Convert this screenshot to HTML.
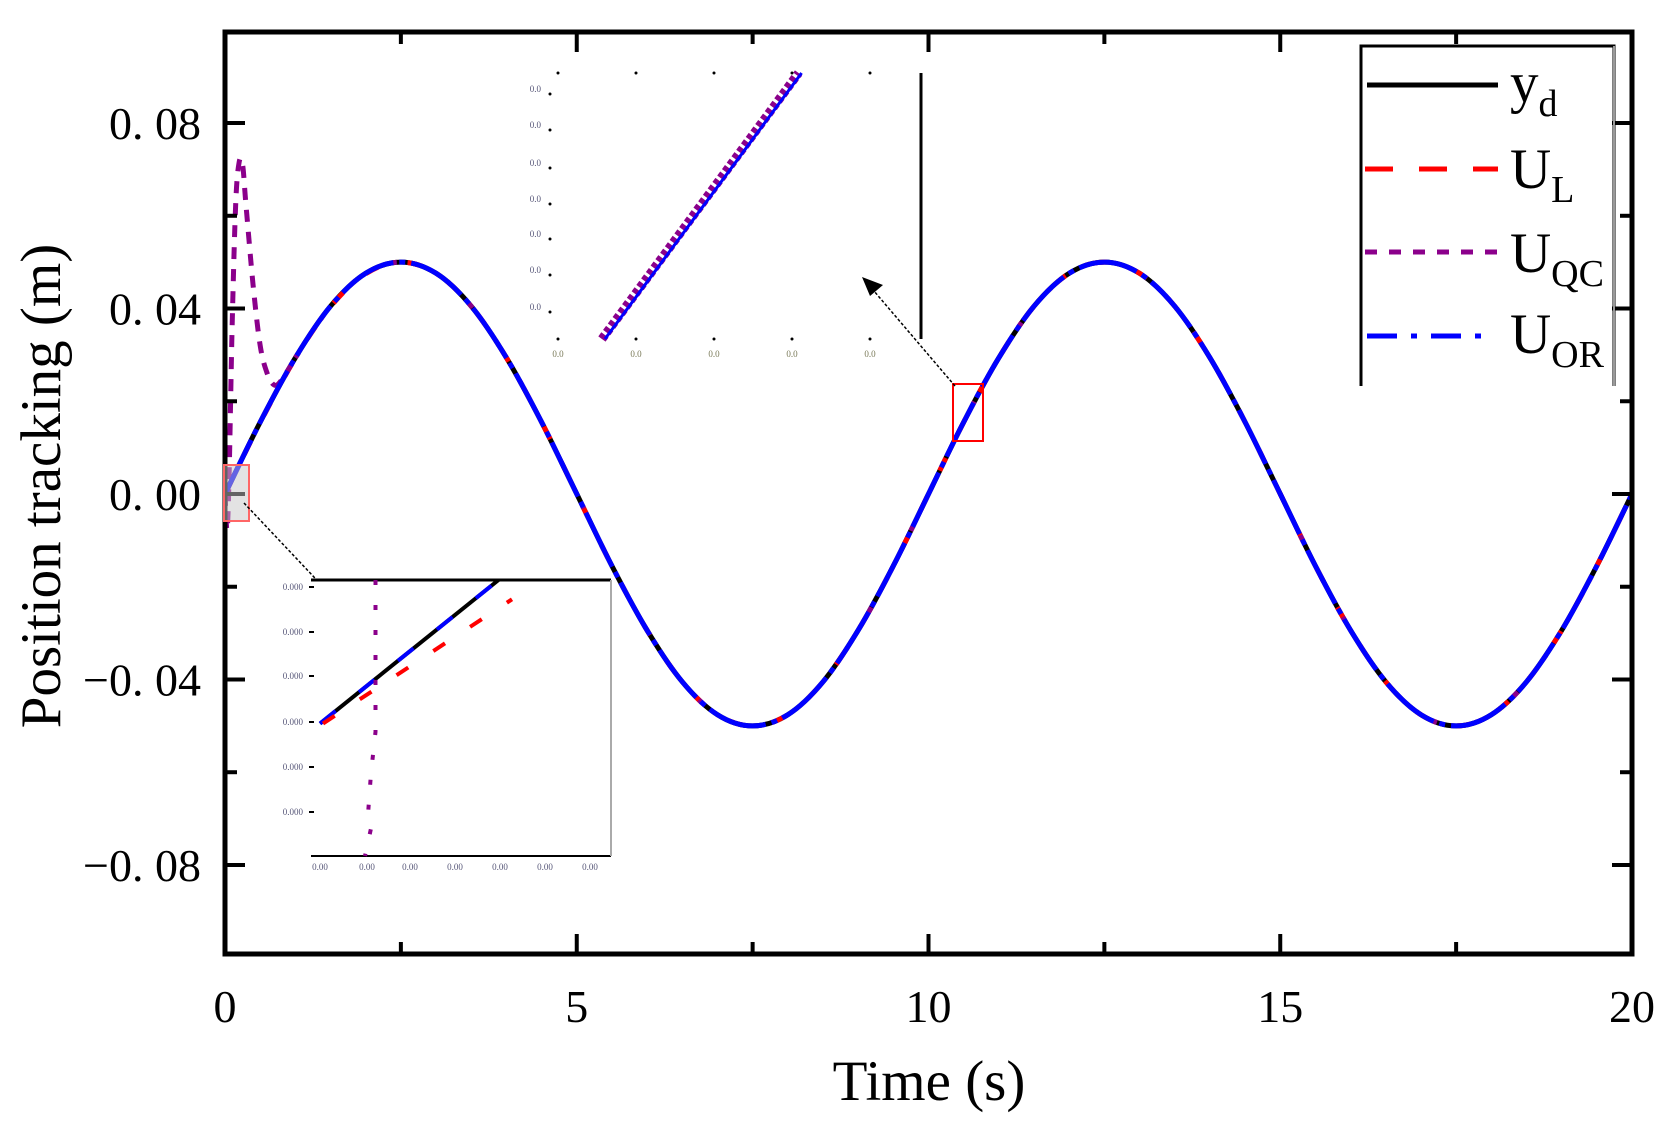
<!DOCTYPE html>
<html><head><meta charset="utf-8"><style>
html,body{margin:0;padding:0;background:#fff;}
svg{display:block;font-family:"Liberation Serif",serif;}
</style></head><body>
<svg id="chart" width="1679" height="1138" viewBox="0 0 1679 1138" xmlns="http://www.w3.org/2000/svg">
<rect x="0" y="0" width="1679" height="1138" fill="#fff"/>
<g id="series"></g>
<g id="axes"></g>
<g id="insets"></g>
<text x="47" y="486" font-size="57" text-anchor="middle" dominant-baseline="middle" transform="rotate(-90 47 486)">Position tracking (m)</text>
<text x="929" y="1100" font-size="57" text-anchor="middle">Time (s)</text>
<g>
<polyline points="1361,386 1361,46 1614,46 1614,386" fill="none" stroke="#000" stroke-width="3"/>
<line x1="1614" y1="46" x2="1614" y2="386" stroke="#999" stroke-width="2"/>
<g><line x1="1367" y1="85" x2="1498" y2="85" stroke="#000" stroke-width="5"/><text x="1510" y="102" font-size="57">y<tspan font-size="38" dy="14">d</tspan></text></g>
<g><line x1="1365" y1="169" x2="1498" y2="169" stroke="#f00" stroke-width="5" stroke-dasharray="28,26"/><text x="1510" y="188" font-size="57">U<tspan font-size="38" dy="14">L</tspan></text></g>
<g><line x1="1365" y1="252" x2="1498" y2="252" stroke="#8b008b" stroke-width="5" stroke-dasharray="12,12"/><text x="1510" y="272" font-size="57">U<tspan font-size="38" dy="14">QC</tspan></text></g>
<g><line x1="1367" y1="336" x2="1485" y2="336" stroke="#00f" stroke-width="5" stroke-dasharray="30,14,6,14"/><text x="1510" y="353" font-size="57">U<tspan font-size="38" dy="14">OR</tspan></text></g>
</g>
</svg>
<script>
// ---- data ----
const timeS = [0,0.5,1,1.5,2,2.5,3,3.5,4,4.5,5,5.5,6,6.5,7,7.5,8,8.5,9,9.5,10,10.5,11,11.5,12,12.5,13,13.5,14,14.5,15,15.5,16,16.5,17,17.5,18,18.5,19,19.5,20];
const ydValues = [0,0.0155,0.0294,0.0405,0.0476,0.05,0.0476,0.0405,0.0294,0.0155,0,-0.0155,-0.0294,-0.0405,-0.0476,-0.05,-0.0476,-0.0405,-0.0294,-0.0155,0,0.0155,0.0294,0.0405,0.0476,0.05,0.0476,0.0405,0.0294,0.0155,0,-0.0155,-0.0294,-0.0405,-0.0476,-0.05,-0.0476,-0.0405,-0.0294,-0.0155,0];
const ulValues = [0,0.0154,0.0293,0.0404,0.0475,0.05,0.0476,0.0405,0.0294,0.0155,0,-0.0155,-0.0294,-0.0405,-0.0476,-0.05,-0.0476,-0.0405,-0.0294,-0.0155,0,0.0155,0.0294,0.0405,0.0476,0.05,0.0476,0.0405,0.0294,0.0155,0,-0.0155,-0.0294,-0.0405,-0.0476,-0.05,-0.0476,-0.0405,-0.0294,-0.0155,0];
const uorValues = [0,0.0155,0.0294,0.0405,0.0476,0.05,0.0476,0.0405,0.0294,0.0155,0,-0.0155,-0.0294,-0.0405,-0.0476,-0.05,-0.0476,-0.0405,-0.0294,-0.0155,0,0.0155,0.0294,0.0405,0.0476,0.05,0.0476,0.0405,0.0294,0.0155,0,-0.0155,-0.0294,-0.0405,-0.0476,-0.05,-0.0476,-0.0405,-0.0294,-0.0155,0];
const uqcEarlyTime = [0,0.03,0.06,0.1,0.15,0.2,0.25,0.3,0.4,0.5,0.6,0.7,0.8,1];
const uqcEarlyValues = [0,-0.0078,0.005,0.035,0.062,0.0715,0.071,0.062,0.045,0.032,0.026,0.0235,0.0245,0.0294];
const uqcLateTime = timeS.slice(2);
const uqcLateValues = [0.0294,0.0405,0.0476,0.05,0.0476,0.0405,0.0294,0.0155,0,-0.0155,-0.0294,-0.0405,-0.0476,-0.05,-0.0476,-0.0405,-0.0294,-0.0155,0,0.0155,0.0294,0.0405,0.0476,0.05,0.0476,0.0405,0.0294,0.0155,0,-0.0155,-0.0294,-0.0405,-0.0476,-0.05,-0.0476,-0.0405,-0.0294,-0.0155,0];
const xTickValues = [0,5,10,15,20];
const xTickLabels = ["0","5","10","15","20"];
const yTickValues = [0.08,0.04,0,-0.04,-0.08];
const yTickLabels = ["0. 08","0. 04","0. 00","\u22120. 04","\u22120. 08"];
// inset (lower-left) data in normalized inset units
const inset1T = [0.03,0.625];
const inset1Yd = [0.48,1.0];
const inset1UL = [0.04,0.67];
const inset1ULy = [0.48,0.93];
const inset1QcX = [0.215,0.215,0.2,0.19,0.2,0.18];
const inset1QcY = [1.0,0.45,0.3,0.15,0.1,0.0];
// inset (upper) data in normalized units
const inset2T = [0.14,0.67];
const inset2Y = [0.0,1.0];

const NS="http://www.w3.org/2000/svg";
const X0=225,X1=1632,Y0=32,Y1=954;
function xs(t){return X0+t*(X1-X0)/20;}
function ys(v){return 494-v*4637;}
function mk(tag,attrs,parent){const e=document.createElementNS(NS,tag);for(const k in attrs)e.setAttribute(k,attrs[k]);parent.appendChild(e);return e;}
function pathFrom(ts,vs,fx,fy){
  const p=ts.map((t,i)=>[fx(t),fy(vs[i])]);
  let d="M"+p[0][0].toFixed(1)+","+p[0][1].toFixed(1);
  for(let i=0;i<p.length-1;i++){
    const a=p[Math.max(0,i-1)],b=p[i],c=p[i+1],e=p[Math.min(p.length-1,i+2)];
    const c1=[b[0]+(c[0]-a[0])/6,b[1]+(c[1]-a[1])/6],c2=[c[0]-(e[0]-b[0])/6,c[1]-(e[1]-b[1])/6];
    d+="C"+c1[0].toFixed(1)+","+c1[1].toFixed(1)+" "+c2[0].toFixed(1)+","+c2[1].toFixed(1)+" "+c[0].toFixed(1)+","+c[1].toFixed(1);
  }
  return d;
}
const S=document.getElementById('series');
let el;
el=mk('path',{d:pathFrom(timeS,ydValues,xs,ys),fill:'none',stroke:'#000','stroke-width':5},S);


el=mk('path',{d:pathFrom(timeS,ulValues,xs,ys),fill:'none',stroke:'#f00','stroke-width':5,'stroke-dasharray':'14,30'},S);


el=mk('path',{d:pathFrom(uqcEarlyTime,uqcEarlyValues,xs,ys),fill:'none',stroke:'#8b008b','stroke-width':5,'stroke-dasharray':'12,10'},S);


el=mk('path',{d:pathFrom(uqcLateTime,uqcLateValues,xs,ys),fill:'none',stroke:'#8b008b','stroke-width':5,'stroke-dasharray':'6,40'},S);


el=mk('path',{d:pathFrom(timeS,uorValues,xs,ys),fill:'none',stroke:'#00f','stroke-width':5,'stroke-dasharray':'60,6,6,6'},S);



// axes
const A=document.getElementById('axes');
el=mk('rect',{x:X0,y:Y0,width:X1-X0,height:Y1-Y0,fill:'none',stroke:'#000','stroke-width':5},A);


for(let t=0;t<=20;t+=2.5){
  const major=(t%5===0), L=major?20:12;
  mk('line',{x1:xs(t),y1:Y1,x2:xs(t),y2:Y1-L,stroke:'#000','stroke-width':4},A);
  mk('line',{x1:xs(t),y1:Y0,x2:xs(t),y2:Y0+L,stroke:'#000','stroke-width':4},A);
}
for(let k=-4;k<=4;k++){
  const v=k*0.02, major=(k%2===0), L=major?20:12;
  mk('line',{x1:X0,y1:ys(v),x2:X0+L,y2:ys(v),stroke:'#000','stroke-width':4},A);
  mk('line',{x1:X1,y1:ys(v),x2:X1-L,y2:ys(v),stroke:'#000','stroke-width':4},A);
}
xTickValues.forEach((t,i)=>{
  const e=mk('text',{x:xs(t),y:1022,'font-size':46,'text-anchor':'middle'},A);
  e.textContent=xTickLabels[i];
  
  
});
yTickValues.forEach((v,i)=>{
  const e=mk('text',{x:201,y:ys(v)+16,'font-size':46,'text-anchor':'end'},A);
  e.textContent=yTickLabels[i];
  
  
});

// insets
const I=document.getElementById('insets');
el=mk('rect',{x:224,y:465,width:25,height:56,fill:'rgba(200,200,200,0.5)',stroke:'#f66','stroke-width':2},I);


el=mk('rect',{x:953,y:384,width:30,height:57,fill:'none',stroke:'#f00','stroke-width':2},I);


mk('line',{x1:244,y1:503,x2:330,y2:594,stroke:'#000','stroke-width':1.5,'stroke-dasharray':'3,2'},I);
mk('polygon',{points:'337,600 316,596 328,584',fill:'#000'},I);
mk('line',{x1:955,y1:386,x2:868,y2:284,stroke:'#000','stroke-width':1.5,'stroke-dasharray':'3,2'},I);
mk('polygon',{points:'862,277 883,285 870,296',fill:'#000'},I);

// inset 1 (lower-left)
const b1={x:311,y:580,w:300,h:276};
function i1x(u){return b1.x+u*b1.w;}
function i1y(u){return b1.y+b1.h-u*b1.h;}
el=mk('rect',{x:b1.x,y:b1.y,width:b1.w,height:b1.h,fill:'#fff',stroke:'none'},I);


mk('line',{x1:b1.x,y1:b1.y,x2:b1.x+b1.w,y2:b1.y,stroke:'#000','stroke-width':3},I);
mk('line',{x1:b1.x,y1:b1.y+b1.h,x2:b1.x+b1.w,y2:b1.y+b1.h,stroke:'#000','stroke-width':2},I);
mk('line',{x1:b1.x+b1.w,y1:b1.y,x2:b1.x+b1.w,y2:b1.y+b1.h,stroke:'#aaa','stroke-width':2},I);
[587,632,676,722,767,812].forEach(y=>{
  mk('line',{x1:b1.x-2,y1:y,x2:b1.x+3,y2:y,stroke:'#000','stroke-width':2},I);
  const e=mk('text',{x:b1.x-8,y:y+3,'font-size':9,'text-anchor':'end',fill:'#557'},I);e.textContent='0.000';
});
[320,367,410,455,500,545,590].forEach(x=>{
  const e=mk('text',{x:x,y:870,'font-size':9,'text-anchor':'middle',fill:'#557'},I);e.textContent='0.00';
});
mk('line',{x1:i1x(inset1T[0]),y1:i1y(inset1Yd[0]),x2:i1x(inset1T[1]),y2:i1y(inset1Yd[1]),stroke:'#000','stroke-width':4},I);
mk('line',{x1:i1x(inset1T[0]),y1:i1y(inset1Yd[0]),x2:i1x(inset1T[1]),y2:i1y(inset1Yd[1]),stroke:'#00f','stroke-width':4,'stroke-dasharray':'20,30'},I);
mk('line',{x1:i1x(inset1UL[0]),y1:i1y(inset1ULy[0]),x2:i1x(inset1UL[1]),y2:i1y(inset1ULy[1]),stroke:'#f00','stroke-width':4,'stroke-dasharray':'14,30'},I);
mk('path',{d:inset1QcX.map((u,i)=>(i?'L':'M')+i1x(u)+','+i1y(inset1QcY[i])).join(''),fill:'none',stroke:'#8b008b','stroke-width':4,'stroke-dasharray':'5,20'},I);

// inset 2 (upper)
const b2={x:550,y:73,w:371,h:266};
function i2x(u){return b2.x+u*b2.w;}
function i2y(u){return b2.y+b2.h-u*b2.h;}
el=mk('line',{x1:921,y1:73,x2:921,y2:339,stroke:'#000','stroke-width':3},I);


[89,125,163,199,234,270,307].forEach(y=>{
  mk('circle',{cx:550,cy:y+5,r:1.5,fill:'#000'},I);
  const e=mk('text',{x:541,y:y+3,'font-size':9,'text-anchor':'end',fill:'#557'},I);e.textContent='0.0';
});
[558,636,714,792,870].forEach(x=>{
  mk('circle',{cx:x,cy:339,r:1.5,fill:'#000'},I);
  mk('circle',{cx:x,cy:73,r:1.5,fill:'#000'},I);
  const e=mk('text',{x:x,y:357,'font-size':9,'text-anchor':'middle',fill:'#775'},I);e.textContent='0.0';
});
mk('line',{x1:i2x(inset2T[0]),y1:i2y(inset2Y[0]),x2:i2x(inset2T[1]),y2:i2y(inset2Y[1]),stroke:'#8b008b','stroke-width':9,'stroke-dasharray':'5,3'},I);
mk('line',{x1:i2x(inset2T[0])+3,y1:i2y(inset2Y[0]),x2:i2x(inset2T[1])+3,y2:i2y(inset2Y[1]),stroke:'#00f','stroke-width':3},I);
</script>
</body></html>
